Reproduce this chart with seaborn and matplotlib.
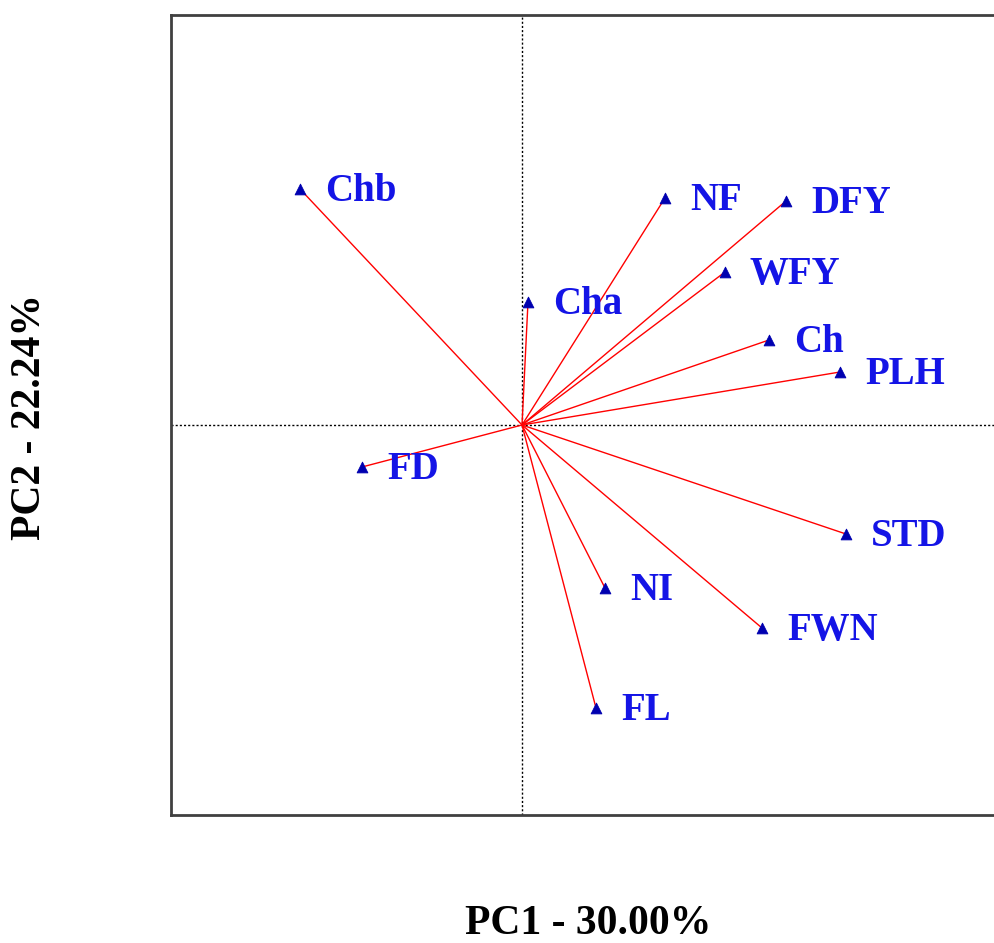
import numpy as np
import pandas as pd
import matplotlib
matplotlib.use('Agg')
import matplotlib.pyplot as plt
import seaborn as sns

# PCA loadings
traits = ['Chb', 'NF', 'DFY', 'WFY', 'Cha', 'Ch', 'PLH', 'FD', 'STD', 'NI', 'FWN', 'FL']
pc1 = [-2.22, 1.43, 2.64, 2.03, 0.06, 2.47, 3.18, -1.60, 3.24, 0.83, 2.40, 0.74]
pc2 = [2.36, 2.27, 2.24, 1.53, 1.23, 0.85, 0.53, -0.42, -1.09, -1.63, -2.03, -2.83]

df = pd.DataFrame({'trait': traits, 'PC1': pc1, 'PC2': pc2})

sns.set_style('white')
plt.rcParams['font.family'] = ['Liberation Serif', 'DejaVu Serif']

fig = plt.figure(figsize=(9.94, 9.43), dpi=100)
ax = fig.add_axes([171/994, 1-815/943, 843/994, 800/943])

# reference lines through origin
ax.axvline(0, color='black', linestyle=(0, (1.5, 1.5)), linewidth=1, zorder=1)
ax.axhline(0, color='black', linestyle=(0, (1.5, 1.5)), linewidth=1, zorder=1)

# vectors from the origin
for _, r in df.iterrows():
    ax.plot([0, r['PC1']], [0, r['PC2']], color='red', linewidth=1, zorder=2)

sns.scatterplot(data=df, x='PC1', y='PC2', marker='^', color='#0000B0', s=60,
                edgecolor='#0000B0', ax=ax, zorder=3, legend=False)

for _, r in df.iterrows():
    ax.annotate(r['trait'], (r['PC1'], r['PC2']), xytext=(18, -2), textcoords='offset points',
                va='center', ha='left', fontsize=28, fontweight='bold', color='#1414e6')

ax.set_xlim(-3.51, 4.92)
ax.set_ylim(-3.90, 4.10)
ax.set_xticks([])
ax.set_yticks([])

for s in ax.spines.values():
    s.set_color('#404040')
    s.set_linewidth(2)

ax.set_xlabel('PC1 - 30.00%', fontsize=30, fontweight='bold', color='black', va='center')
ax.xaxis.set_label_coords((588-171)/843, (815-924)/800)
ax.set_ylabel('PC2 - 22.24%', fontsize=30, fontweight='bold', color='black', va='center')
ax.yaxis.set_label_coords((30-171)/843, (815-417)/800)

plt.savefig('out.png', dpi=100)
